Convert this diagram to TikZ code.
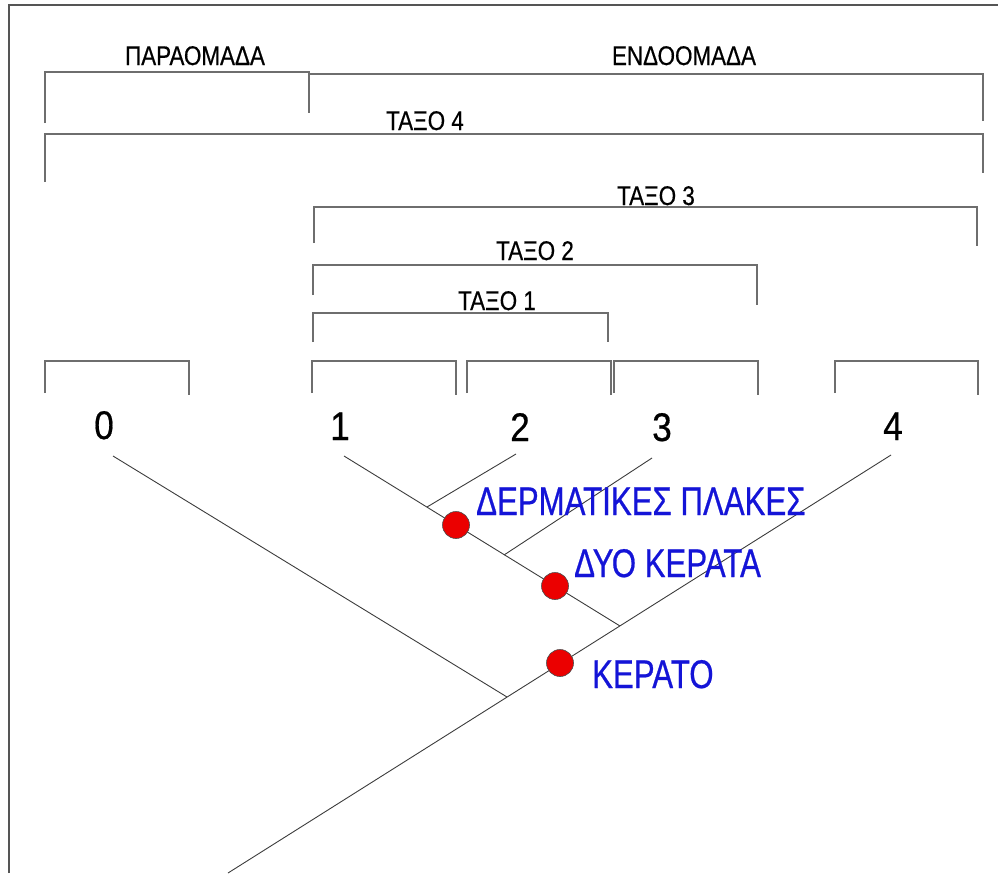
\documentclass[tikz,border=0pt]{standalone}
\usepackage{fontspec}
\setmainfont{Liberation Sans}
\newfontfamily\narrowfont[FakeStretch=0.83,FakeBold=0.5]{Liberation Sans}
\newfontfamily\traitfont[FakeStretch=0.78,FakeBold=0.6]{Liberation Sans}
\newfontfamily\digitfont[FakeStretch=0.88,FakeBold=0.5]{Liberation Sans}
\definecolor{framegray}{RGB}{85,85,85}
\definecolor{brkgray}{RGB}{110,110,110}
\definecolor{treegray}{RGB}{60,60,60}
\definecolor{labelblue}{RGB}{20,20,215}
\definecolor{dotred}{RGB}{235,0,0}
\tikzset{
  brk/.style={draw=brkgray, line width=1.2pt},
  branch/.style={draw=treegray, line width=0.9pt},
  grouplabel/.style={inner sep=0pt, anchor=base, font=\narrowfont\fontsize{27}{27}\selectfont},
  taxonlabel/.style={inner sep=0pt, anchor=base, font=\digitfont\fontsize{40}{40}\selectfont},
  traitlabel/.style={inner sep=0pt, anchor=base west, text=labelblue, font=\traitfont\fontsize{40}{40}\selectfont},
  trait/.style={circle, fill=dotred, draw=black!70, line width=0.6pt, minimum size=27pt, inner sep=0pt}
}
\begin{document}
\begin{tikzpicture}[x=1pt,y=-1pt]
\useasboundingbox (0,0) rectangle (998,873);
% frame: top and left edges only
\draw[framegray, line width=1.5pt] (9,873) -- (9,5) -- (998,5);

% group brackets
\draw[brk] (45,123) -- (45,72) -- (309,72) -- (309,113);
\draw[brk] (309,74) -- (983,74) -- (983,121);
\node[grouplabel] (outgroup) at (195,65) {ΠΑΡΑΟΜΑΔΑ};
\node[grouplabel] (ingroup) at (684,65) {ΕΝΔΟΟΜΑΔΑ};

% taxon brackets
\draw[brk] (45,182) -- (45,134) -- (983,134) -- (983,173);
\node[grouplabel] (taxon4) at (425,130) {ΤΑΞΟ 4};
\draw[brk] (314,243) -- (314,207) -- (977,207) -- (977,246);
\node[grouplabel] (taxon3) at (656,205) {ΤΑΞΟ 3};
\draw[brk] (313,295) -- (313,265) -- (757,265) -- (757,305);
\node[grouplabel] (taxon2) at (535,260) {ΤΑΞΟ 2};
\draw[brk] (313,342) -- (313,313) -- (608,313) -- (608,342);
\node[grouplabel] (taxon1) at (497,310) {ΤΑΞΟ 1};

% single-species brackets
\foreach \a/\b in {45/189, 312/456, 467/611, 614/758, 835/978}
  \draw[brk] (\a,393) -- (\a,361) -- (\b,361) -- (\b,395);

% species numbers
\node[taxonlabel] (n0) at (104,439) {0};
\node[taxonlabel] (n1) at (340,440) {1};
\node[taxonlabel] (n2) at (520,441) {2};
\node[taxonlabel] (n3) at (662,441) {3};
\node[taxonlabel] (n4) at (893,440) {4};

% branch tips, joins and root
\coordinate (t0) at (113,456);
\coordinate (t1) at (344,456);
\coordinate (t2) at (516,454);
\coordinate (t3) at (652,458);
\coordinate (t4) at (891,455);
\coordinate (root) at (228,873);
\coordinate (j0) at (507,697);
\coordinate (j1) at (620,626);
\coordinate (j2) at (427,507);
\coordinate (j3) at (504,555);

% cladogram
\draw[branch] (root) -- (t4);
\draw[branch] (t0) -- (j0);
\draw[branch] (t1) -- (j1);
\draw[branch] (t2) -- (j2);
\draw[branch] (t3) -- (j3);

% characters
\node[trait] (c1) at (456,525) {};
\node[trait] (c2) at (555,586) {};
\node[trait] (c3) at (560,663) {};
\node[traitlabel] (l1) at (476,515) {ΔΕΡΜΑΤΙΚΕΣ ΠΛΑΚΕΣ};
\node[traitlabel] (l2) at (574,577) {ΔΥΟ ΚΕΡΑΤΑ};
\node[traitlabel] (l3) at (592,688) {ΚΕΡΑΤΟ};
\end{tikzpicture}
\end{document}
